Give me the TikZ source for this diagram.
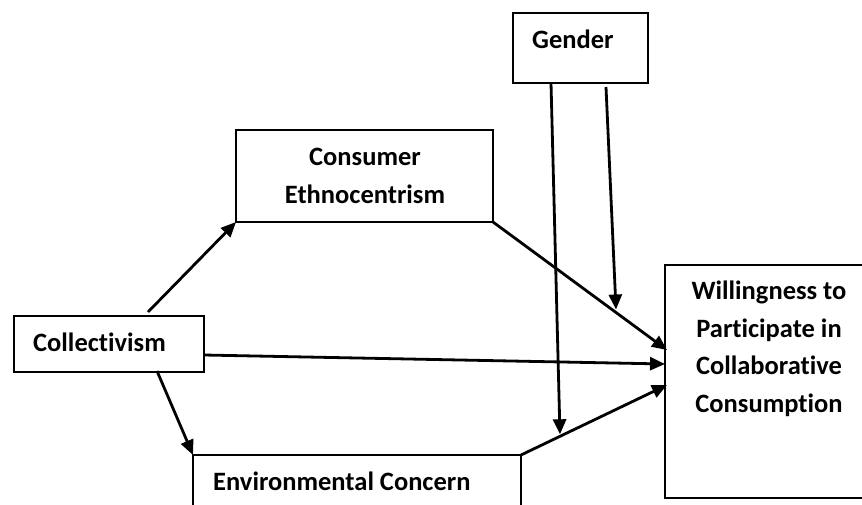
\documentclass[tikz,border=0pt]{standalone}
\usepackage{fontspec}
\setmainfont{Carlito}[Ligatures=NoCommon]
\usetikzlibrary{arrows.meta,calc}
\begin{document}
\begin{tikzpicture}[x=1pt,y=-1pt,
  box/.style={draw, line width=2.3pt, inner sep=0pt, outer sep=0pt, anchor=north west},
  openbox/.style={box, draw=none},
  edge/.style={line width=2.3pt, line join=miter},
  lbl/.style={font=\fontsize{26.5}{37.5}\selectfont\bfseries, inner sep=0pt, align=center},
  arr/.style={line width=2.8pt, -{Triangle[length=15pt,width=13pt]}}]
  % canvas
  \useasboundingbox (0,0) rectangle (862,504);
  \clip (0,0) rectangle (862,504);
  \fill[white] (0,0) rectangle (862,504);

  % boxes
  \node[box, minimum width=135pt, minimum height=70pt]  (gen) at (513,13)  {};
  \node[box, minimum width=257pt, minimum height=92pt]  (ce)  at (236,130) {};
  \node[box, minimum width=190pt, minimum height=56pt]  (col) at (14,316)  {};
  \node[box, minimum width=328pt, minimum height=90pt]  (env) at (193,455) {};
  % the outcome box runs out of the frame on the right
  \node[openbox, minimum width=240pt, minimum height=233pt] (wil) at (665,265) {};
  \draw[edge] (wil.north east) -- (wil.north west) -- (wil.south west) -- (wil.south east);

  % labels (base anchor of a multi-line label sits on its last line)
  \node[lbl, anchor=base west] (genT) at (532,48) {Gender};
  \node[lbl, anchor=base] (ceT) at (365,203) {Consumer\\Ethnocentrism};
  \node[lbl, anchor=base west] (colT) at (33,351) {Collectivism};
  \node[lbl, anchor=base west] (envT) at (213,490) {Environmental Concern};
  \node[lbl, anchor=base] (wilT) at (769,412) {Willingness to\\Participate in\\Collaborative\\Consumption};

  % paths into the outcome
  \draw[arr] ($(col.north west)+(134,-4)$) -- (ce.south west);
  \draw[arr] ($(col.south west)+(143,-1)$) -- (env.north west);
  \draw[arr] ($(col.south east)+(0,-17)$) -- ($(wil.north west)+(0,99)$);
  \draw[arr] (ce.south east) -- coordinate[pos=0.707] (m4) ($(wil.north west)+(2,85)$);
  \draw[arr] (env.north east) -- coordinate[pos=0.267] (m5) ($(wil.north west)+(2,120)$);

  % moderator
  \draw[arr] ($(gen.south west)+(38,0)$) -- ($(m5)+(0,-2)$);
  \draw[arr] ($(gen.south west)+(93,4)$) -- ($(m4)+(0,-3)$);
\end{tikzpicture}
\end{document}
